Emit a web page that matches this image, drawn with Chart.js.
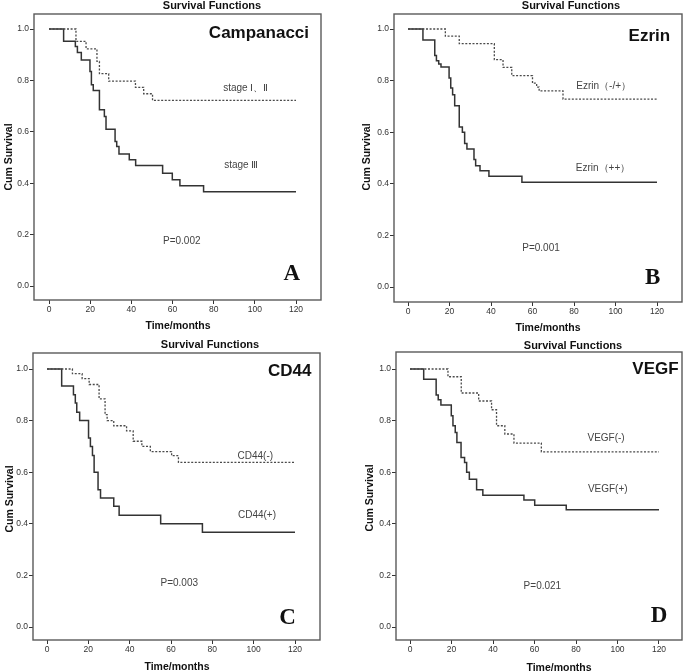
<!DOCTYPE html>
<html>
<head>
<meta charset="utf-8">
<script src="https://cdn.jsdelivr.net/npm/chart.js@4"></script>
<style>
  body { margin: 0; background: #fff; }
  #wrap { position: relative; width: 685px; height: 672px; overflow: hidden; background: #fff; }
  canvas { position: absolute; }
</style>
</head>
<body>
<div id="wrap"></div>
<script>
// tick labels
const xTicks = [0, 20, 40, 60, 80, 100, 120];
const yTicks = [0, 0.2, 0.4, 0.6, 0.8, 1.0];

// A - Campanacci
const campHighT = [0, 13.1, 18.0, 23.3, 24.5, 29.0, 42.0, 46.0, 50.3, 120];
const campHighS = [1, 0.952, 0.923, 0.874, 0.826, 0.797, 0.773, 0.748, 0.722, 0.722];
const campLowT = [0, 7.1, 12.8, 13.8, 15.7, 19.9, 20.6, 21.5, 24.5, 26.9, 27.7, 32.1, 32.9, 34.0, 39.0, 42.1, 55.2, 59.9, 63.6, 75.1, 120];
const campLowS = [1, 0.952, 0.932, 0.909, 0.879, 0.835, 0.783, 0.761, 0.686, 0.66, 0.61, 0.562, 0.543, 0.514, 0.491, 0.469, 0.439, 0.413, 0.39, 0.367, 0.367];

// B - Ezrin
const ezNegT = [0, 18.0, 24.7, 41.6, 45.8, 50.0, 60.0, 62.0, 63.2, 74.7, 120];
const ezNegS = [1, 0.972, 0.943, 0.881, 0.851, 0.819, 0.79, 0.775, 0.76, 0.728, 0.728];
const ezPosT = [0, 7.2, 12.9, 13.7, 14.8, 15.9, 19.8, 20.6, 21.5, 22.5, 24.7, 26.2, 27.3, 28.4, 31.8, 32.6, 34.7, 39.0, 54.9, 120];
const ezPosS = [1, 0.957, 0.897, 0.877, 0.864, 0.853, 0.81, 0.771, 0.745, 0.703, 0.62, 0.6, 0.556, 0.535, 0.494, 0.47, 0.451, 0.429, 0.406, 0.406];

// C - CD44
const cdNegT = [0, 12.3, 17.0, 20.4, 25.2, 28.1, 29.1, 32.3, 38.5, 41.7, 45.9, 50.0, 60.3, 63.6, 120];
const cdNegS = [1, 0.982, 0.963, 0.94, 0.884, 0.823, 0.80, 0.78, 0.76, 0.72, 0.70, 0.68, 0.664, 0.638, 0.638];
const cdPosT = [0, 7.1, 12.8, 13.7, 14.4, 15.8, 20.1, 21.0, 22.0, 22.8, 24.7, 25.9, 32.3, 34.9, 55.0, 75.2, 120];
const cdPosS = [1, 0.934, 0.9, 0.868, 0.832, 0.8, 0.733, 0.7, 0.665, 0.6, 0.532, 0.5, 0.468, 0.433, 0.4, 0.367, 0.367];

// D - VEGF
const vegfNegT = [0, 18.3, 24.7, 33.1, 39.3, 41.7, 45.7, 50.1, 63.3, 120];
const vegfNegS = [1, 0.97, 0.907, 0.876, 0.842, 0.78, 0.748, 0.713, 0.679, 0.679];
const vegfPosT = [0, 6.6, 12.6, 13.6, 14.9, 19.9, 20.7, 21.8, 22.6, 24.6, 26.3, 27.3, 28.6, 32.1, 35.1, 54.9, 60.1, 75.3, 120];
const vegfPosS = [1, 0.96, 0.899, 0.881, 0.86, 0.819, 0.78, 0.754, 0.715, 0.657, 0.638, 0.6, 0.573, 0.532, 0.511, 0.492, 0.472, 0.454, 0.454];

const SANS = '"Liberation Sans", Arial, sans-serif';
const SERIF = '"Liberation Serif", "Times New Roman", serif';
const bigFont = 'bold 17px ' + SANS;
const labFont = '10px ' + SANS;
const letterFont = 'bold 23px ' + SERIF;

// layout in page pixels: frame box, where tick 0/120 and 0.0/1.0 sit, and the titles
const panels = [
  { box: {l: 34, t: 14, r: 321, b: 300}, x0: 49, x120: 296, y1: 29, y0: 286,
    title: [212, 6], cum: [9, 157], time: [178, 326],
    good: [campHighT, campHighS], bad: [campLowT, campLowS],
    notes: [['Campanacci', 102, 0.984, bigFont, '#111'], ['stage Ⅰ、Ⅱ', 95.6, 0.77, labFont, '#444'],
            ['stage Ⅲ', 93.4, 0.471, labFont, '#444'], ['P=0.002', 64.5, 0.173, labFont, '#444'],
            ['A', 118, 0.045, letterFont, '#111']] },
  { box: {l: 394, t: 14, r: 682, b: 302}, x0: 408, x120: 657, y1: 29, y0: 287,
    title: [571, 6], cum: [367, 157], time: [548, 328],
    good: [ezNegT, ezNegS], bad: [ezPosT, ezPosS],
    notes: [['Ezrin', 116.3, 0.972, bigFont, '#111'], ['Ezrin（-/+）', 94.3, 0.78, labFont, '#444'],
            ['Ezrin（++）', 94, 0.461, labFont, '#444'], ['P=0.001', 64.1, 0.151, labFont, '#444'],
            ['B', 117.9, 0.035, letterFont, '#111']] },
  { box: {l: 33, t: 353, r: 320, b: 640}, x0: 47, x120: 295, y1: 369, y0: 627,
    title: [210, 345], cum: [10, 499], time: [177, 667],
    good: [cdNegT, cdNegS], bad: [cdPosT, cdPosS],
    notes: [['CD44', 117.4, 0.99, bigFont, '#111'], ['CD44(-)', 100.8, 0.663, labFont, '#444'],
            ['CD44(+)', 101.6, 0.435, labFont, '#444'], ['P=0.003', 64, 0.17, labFont, '#444'],
            ['C', 116.4, 0.035, letterFont, '#111']] },
  { box: {l: 396, t: 352, r: 682, b: 640}, x0: 410, x120: 659, y1: 369, y0: 627,
    title: [573, 346], cum: [370, 498], time: [559, 668],
    good: [vegfNegT, vegfNegS], bad: [vegfPosT, vegfPosS],
    notes: [['VEGF', 118.3, 1.0, bigFont, '#111'], ['VEGF(-)', 94.5, 0.73, labFont, '#444'],
            ['VEGF(+)', 95.3, 0.534, labFont, '#444'], ['P=0.021', 63.8, 0.159, labFont, '#444'],
            ['D', 120, 0.043, letterFont, '#111']] }
];

const AXW = 34, AXH = 36, PADT = 14, PADR = 3;

function toPoints(t, s) {
  return t.map((v, i) => ({x: v, y: s[i]}));
}

const decor = {
  id: 'decor',
  afterDraw(chart) {
    const p = chart.options.plugins.decor.panel;
    const off = chart.options.plugins.decor.off;
    const ctx = chart.ctx, a = chart.chartArea;
    const xs = chart.scales.x, ys = chart.scales.y;
    ctx.save();
    // frame
    ctx.strokeStyle = '#5a5a5a';
    ctx.lineWidth = 1.4;
    ctx.strokeRect(a.left, a.top, a.right - a.left, a.bottom - a.top);
    ctx.textAlign = 'center';
    ctx.textBaseline = 'middle';
    ctx.fillStyle = '#111';
    ctx.font = 'bold 11px ' + SANS;
    ctx.fillText('Survival Functions', p.title[0] - off[0], p.title[1] - off[1]);
    ctx.font = 'bold 10.5px ' + SANS;
    ctx.fillText('Time/months', p.time[0] - off[0], p.time[1] - off[1]);
    ctx.save();
    ctx.translate(p.cum[0] - off[0], p.cum[1] - off[1]);
    ctx.rotate(-Math.PI / 2);
    ctx.font = 'bold 10.5px ' + SANS;
    ctx.fillText('Cum Survival', 0, 0);
    ctx.restore();
    p.notes.forEach(n => {
      ctx.font = n[3];
      ctx.fillStyle = n[4];
      ctx.fillText(n[0], xs.getPixelForValue(n[1]), ys.getPixelForValue(n[2]));
    });
    ctx.restore();
  }
};

const wrap = document.getElementById('wrap');
panels.forEach(p => {
  const b = p.box;
  const left = b.l - AXW, top = b.t - PADT;
  const w = b.r - b.l + AXW + PADR, h = b.b - b.t + PADT + AXH;
  const cv = document.createElement('canvas');
  cv.width = w; cv.height = h;
  cv.style.left = left + 'px'; cv.style.top = top + 'px';
  cv.style.width = w + 'px'; cv.style.height = h + 'px';
  wrap.appendChild(cv);

  const pxPerMonth = (p.x120 - p.x0) / 120;
  const pxPerUnit = p.y0 - p.y1;
  const xMin = -(p.x0 - b.l) / pxPerMonth, xMax = 120 + (b.r - p.x120) / pxPerMonth;
  const yMax = 1 + (p.y1 - b.t) / pxPerUnit, yMin = -(b.b - p.y0) / pxPerUnit;

  new Chart(cv.getContext('2d'), {
    type: 'scatter',
    data: {
      datasets: [
        { data: toPoints(p.good[0], p.good[1]), showLine: true, stepped: true,
          borderColor: '#4a4a4a', borderWidth: 1.3, borderDash: [2, 1.6], pointRadius: 0, fill: false },
        { data: toPoints(p.bad[0], p.bad[1]), showLine: true, stepped: true,
          borderColor: '#333', borderWidth: 1.5, pointRadius: 0, fill: false }
      ]
    },
    options: {
      responsive: false,
      animation: false,
      layout: { padding: {top: PADT, right: PADR, left: 0, bottom: 0} },
      plugins: {
        legend: { display: false },
        tooltip: { enabled: false },
        decor: { panel: p, off: [left, top] }
      },
      scales: {
        x: {
          type: 'linear', min: xMin, max: xMax,
          afterBuildTicks: s => { s.ticks = xTicks.map(v => ({value: v})); },
          afterFit: s => { s.height = AXH; },
          border: { display: false },
          grid: { drawOnChartArea: false, drawTicks: true, tickLength: 4, tickColor: '#333', lineWidth: 1 },
          ticks: { padding: 1, color: '#333', font: { size: 8.5, family: SANS }, maxRotation: 0, autoSkip: false,
                   callback: v => String(v) }
        },
        y: {
          type: 'linear', min: yMin, max: yMax,
          afterBuildTicks: s => { s.ticks = yTicks.map(v => ({value: v})); },
          afterFit: s => { s.width = AXW; },
          border: { display: false },
          grid: { drawOnChartArea: false, drawTicks: true, tickLength: 4, tickColor: '#333', lineWidth: 1 },
          ticks: { padding: 1, color: '#333', font: { size: 8.5, family: SANS }, autoSkip: false,
                   callback: v => v.toFixed(1) }
        }
      }
    },
    plugins: [decor]
  });
});
</script>
</body>
</html>
